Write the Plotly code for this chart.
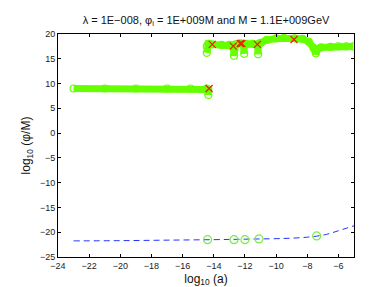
import plotly.graph_objects as go

# Upper trajectory (log10 a, log10 phi/M); None separates the two branches
upper_x = [-23.0, -21.0, -19.0, -17.0, -15.5, -14.45, -14.35, -14.35, None,
           -14.45, -14.45, -14.35, -14.1, -13.5, -13.0, -12.75, -12.7, -12.7,
           -12.6, -12.3, -12.1, -12.05, -12.05, -11.9, -11.5, -11.2, -11.15,
           -11.15, -11.0, -10.6, -10.0, -9.5, -8.8, -8.3, -7.9, -7.6, -7.45,
           -7.3, -7.1, -6.5, -6.0, -5.5, -5.05]
upper_y = [9.0, 9.0, 9.0, 9.0, 9.0, 9.0, 8.8, 7.7, None,
           16.2, 17.5, 18.0, 17.9, 17.8, 17.8, 17.6, 15.6, 17.7,
           17.9, 18.1, 18.0, 16.0, 17.9, 18.0, 18.0, 17.9, 15.9,
           17.9, 18.2, 18.8, 19.1, 19.2, 19.1, 19.0, 18.4, 17.2, 16.1,
           17.0, 17.3, 17.4, 17.5, 17.5, 17.5]

# Red crosses on the upper trajectory
cross_x = [-14.3, -14.1, -12.75, -12.3, -12.2, -11.2, -8.85]
cross_y = [9.0, 17.9, 17.55, 18.1, 18.1, 17.9, 18.9]

# Lower dashed curve
lower_x = [-23.0, -20.0, -17.0, -14.0, -12.0, -10.0, -9.0, -8.0, -7.0, -6.5, -6.0, -5.5, -5.0]
lower_y = [-21.75, -21.7, -21.6, -21.5, -21.4, -21.3, -21.2, -21.0, -20.6, -20.2, -19.7, -19.2, -18.7]

# Open green circles on lower curve
circ_x = [-14.4, -12.7, -12.0, -11.1, -7.4]
circ_y = [-21.5, -21.5, -21.5, -21.35, -20.75]

x_ticks = [-24, -22, -20, -18, -16, -14, -12, -10, -8, -6]
y_ticks = [-25, -20, -15, -10, -5, 0, 5, 10, 15, 20]

green = "#66ff00"

fig = go.Figure()
fig.add_trace(go.Scatter(
    x=upper_x, y=upper_y, mode="lines+markers", connectgaps=False,
    line=dict(color=green, width=7),
    marker=dict(symbol="circle-open", size=7, color=green, line=dict(width=1.2)),
    showlegend=False, hoverinfo="skip"))
fig.add_trace(go.Scatter(
    x=cross_x, y=cross_y, mode="markers",
    marker=dict(symbol="x-thin-open", size=7, color="#ee2200", line=dict(width=1.3, color="#ee2200")),
    showlegend=False))
fig.add_trace(go.Scatter(
    x=lower_x, y=lower_y, mode="lines",
    line=dict(color="#2233ff", width=1, dash="6px,4px", shape="spline"),
    showlegend=False))
fig.add_trace(go.Scatter(
    x=circ_x, y=circ_y, mode="markers",
    marker=dict(symbol="circle-open", size=8, color="#77ee44", line=dict(width=1.2)),
    showlegend=False))

axis_common = dict(
    showgrid=False, zeroline=False, showline=True, linecolor="black", linewidth=1,
    mirror="ticks", ticks="inside", ticklen=3, tickcolor="black",
    tickfont=dict(family="Liberation Sans, Arial", size=9, color="#222"),
)
fig.update_xaxes(range=[-24, -5], tickvals=x_ticks,
                 ticktext=[("−" + str(-t)) for t in x_ticks],
                 title=dict(text="log<sub>10</sub> (a)", standoff=4,
                            font=dict(family="Liberation Sans, Arial", size=12, color="#111")),
                 **axis_common)
fig.update_yaxes(range=[-25, 20], tickvals=y_ticks,
                 ticktext=[("−" + str(-t)) if t < 0 else str(t) for t in y_ticks],
                 title=dict(text="log<sub>10</sub> (φ/M)", standoff=6,
                            font=dict(family="Liberation Sans, Arial", size=12, color="#111")),
                 **axis_common)

fig.update_layout(
    width=382, height=287,
    margin=dict(l=50, r=36, t=26, b=34),
    paper_bgcolor="white", plot_bgcolor="white",
    title=dict(text="λ = 1E−008, φ<sub>i</sub> = 1E+009M and M = 1.1E+009GeV",
               x=198/382, xanchor="center", y=1 - 12/287, yanchor="middle",
               font=dict(family="Liberation Sans, Arial", size=11, color="#111")),
)

fig.write_html("out.html")
